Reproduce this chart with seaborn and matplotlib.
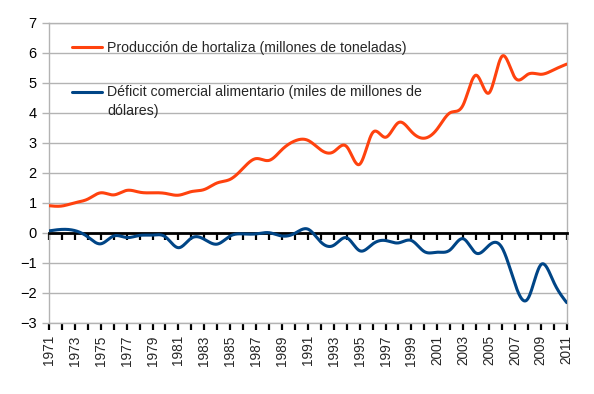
import numpy as np
import pandas as pd
import matplotlib
matplotlib.use("Agg")
import matplotlib.pyplot as plt
import seaborn as sns

# yearly values
years = list(range(1971, 2012))
produccion = [0.90, 0.89, 1.00, 1.12, 1.33, 1.26, 1.41, 1.35, 1.33, 1.31,
              1.25, 1.37, 1.44, 1.66, 1.78, 2.15, 2.47, 2.41, 2.77, 3.06,
              3.08, 2.76, 2.70, 2.87, 2.28, 3.33, 3.18, 3.67, 3.37, 3.15,
              3.46, 4.00, 4.26, 5.25, 4.66, 5.88, 5.17, 5.28, 5.28, 5.43,
              5.62]
deficit = [0.06, 0.11, 0.07, -0.14, -0.37, -0.11, -0.16, -0.09, -0.08, -0.14,
           -0.50, -0.18, -0.22, -0.38, -0.11, -0.04, -0.04, 0.00, -0.11, -0.02,
           0.12, -0.31, -0.42, -0.17, -0.60, -0.38, -0.26, -0.34, -0.26, -0.63,
           -0.65, -0.57, -0.20, -0.68, -0.42, -0.50, -1.70, -2.20, -1.07, -1.65,
           -2.33]

lbl_prod = "Producción de hortaliza (millones de toneladas)"
lbl_def = "Déficit comercial alimentario (miles de millones de\ndólares)"
red = "#ff420e"
blue = "#004586"


def smooth(x, y, n=24):
    # natural cubic spline, like the "smooth line" option of the original chart
    x = np.asarray(x, float)
    y = np.asarray(y, float)
    h = np.diff(x)
    m = len(x)
    A = np.zeros((m, m))
    r = np.zeros(m)
    A[0, 0] = A[-1, -1] = 1
    for i in range(1, m - 1):
        A[i, i - 1] = h[i - 1]
        A[i, i] = 2 * (h[i - 1] + h[i])
        A[i, i + 1] = h[i]
        r[i] = 3 * ((y[i + 1] - y[i]) / h[i] - (y[i] - y[i - 1]) / h[i - 1])
    c = np.linalg.solve(A, r)
    b = np.diff(y) / h - h * (2 * c[:-1] + c[1:]) / 3
    d = np.diff(c) / (3 * h)
    xs, ys = [], []
    for i in range(m - 1):
        t = np.linspace(0, h[i], n, endpoint=False)
        xs.append(x[i] + t)
        ys.append(y[i] + b[i] * t + c[i] * t ** 2 + d[i] * t ** 3)
    xs.append([x[-1]])
    ys.append([y[-1]])
    return np.concatenate(xs), np.concatenate(ys)


sx, sp = smooth(years, produccion)
_, sd = smooth(years, deficit)
df = pd.concat([
    pd.DataFrame({"year": sx, "value": sp, "serie": lbl_prod}),
    pd.DataFrame({"year": sx, "value": sd, "serie": lbl_def}),
])

sns.set_theme(style="white")
plt.rcParams["font.family"] = ["Liberation Sans", "DejaVu Sans"]

fig = plt.figure(figsize=(5.94, 3.94), dpi=100)
ax = fig.add_axes([49 / 594, 1 - 322.7 / 394, 517.7 / 594, 300 / 394])

sns.lineplot(data=df, x="year", y="value", hue="serie", palette=[red, blue],
             linewidth=2.2, sort=False, estimator=None, ax=ax, zorder=4)

ax.set_xlim(1971, 2011)
ax.set_ylim(-3, 7)
ax.set_xlabel("")
ax.set_ylabel("")

# y axis
ax.set_yticks(range(-3, 8))
ax.tick_params(axis="y", direction="out", length=5, width=1, color="#b3b3b3",
               labelsize=10.5, labelcolor="black", pad=4, left=True)
ax.grid(axis="y", color="#b3b3b3", linewidth=1)
ax.grid(axis="x", visible=False)
for s in ["left", "right", "top"]:
    ax.spines[s].set_color("#b3b3b3")
    ax.spines[s].set_linewidth(1)

# x axis line drawn at zero
ax.spines["bottom"].set_position(("data", 0))
ax.spines["bottom"].set_color("black")
ax.spines["bottom"].set_linewidth(2)
ax.set_xticks(years)
ax.tick_params(axis="x", direction="out", length=5, width=1.6, color="black",
               labelbottom=False, bottom=True)

# labels at the bottom of the plot area
sec = ax.secondary_xaxis("bottom")
sec.set_xticks(years, labels=[str(y) if (y - 1971) % 2 == 0 else "" for y in years])
sec.tick_params(axis="x", direction="out", length=5, width=1.6, color="black",
                labelsize=9.8, labelrotation=90, pad=4)
sec.spines["bottom"].set_color("#b3b3b3")
sec.spines["bottom"].set_linewidth(1)

leg = ax.legend(loc="upper left", bbox_to_anchor=(0.0444, 0.94), frameon=False,
                fontsize=10.2, handlelength=2.15, handletextpad=0.35,
                labelspacing=2.15, borderpad=0, borderaxespad=0)
for line in leg.get_lines():
    line.set_linewidth(2.2)
for t in leg.get_texts():
    t.set_linespacing(1.45)
# put the handle of the wrapped label next to its first line
h2 = leg.get_lines()[1]
h2.set_ydata(np.asarray(h2.get_ydata()) + 7.0)

fig.savefig("out.png", dpi=100)
